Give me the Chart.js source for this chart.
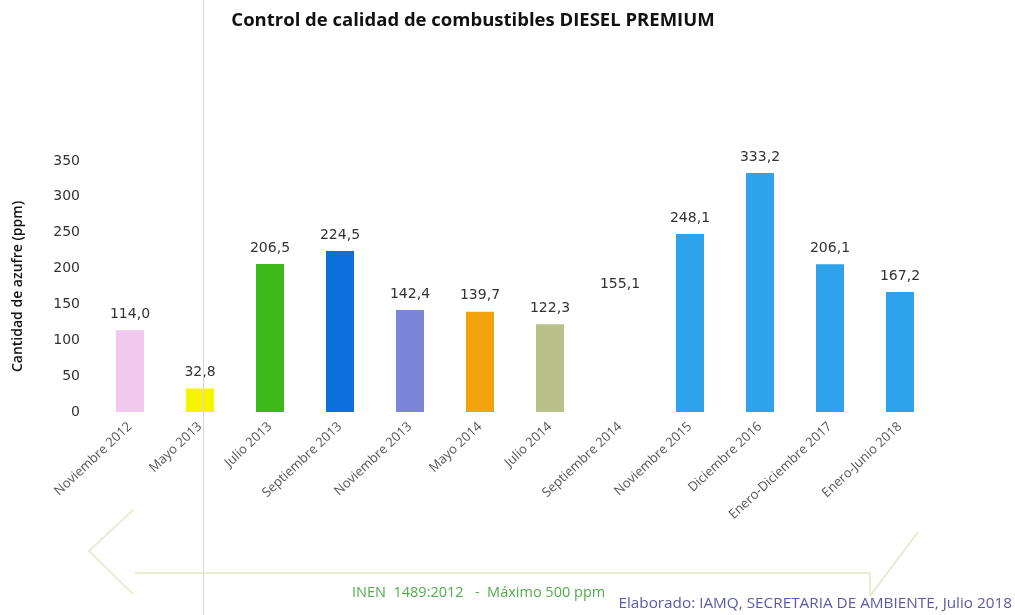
<!DOCTYPE html>
<html lang="es">
<head>
  <meta charset="UTF-8" />
  <title>Diesel Premium</title>
  <script src="https://cdn.jsdelivr.net/npm/chart.js"></script>
  <style>
    html, body { margin: 0; padding: 0; background: #fff; }
    #wrap { width: 1015px; height: 615px; position: relative; }
  </style>
</head>
<body>
  <div id="wrap"><canvas id="grafico"></canvas></div>
  <script>
    // datos
    const categorias = ['Noviembre 2012', 'Mayo 2013', 'Julio 2013', 'Septiembre 2013', 'Noviembre 2013',
      'Mayo 2014', 'Julio 2014', 'Septiembre 2014', 'Noviembre 2015', 'Diciembre 2016',
      'Enero-Diciembre 2017', 'Enero-Junio 2018'];
    const azufre = [114.0, 32.8, 206.5, 224.5, 142.4, 139.7, 122.3, 155.1, 248.1, 333.2, 206.1, 167.2];
    const colores = ['#f2c9ee', '#f7f400', '#3cb918', '#0b6fdc', '#7b86d8', '#f2a40c', '#b9c08a',
      'rgba(0,0,0,0)', '#2ea2ea', '#2ea2ea', '#2ea2ea', '#2ea2ea'];
    const ticksY = [0, 50, 100, 150, 200, 250, 300, 350];

    const fuente = "'Open Sans', 'DejaVu Sans', sans-serif";
    const fuenteNum = "'DejaVu Sans', sans-serif";

    // etiquetas de valor y textos extra
    const extras = {
      id: 'extras',
      afterDatasetsDraw(chart) {
        const ctx = chart.ctx;
        ctx.save();
        ctx.font = '14px ' + fuenteNum;
        ctx.fillStyle = '#333';
        ctx.textAlign = 'center';
        ctx.textBaseline = 'middle';
        chart.getDatasetMeta(0).data.forEach((bar, i) => {
          ctx.fillText(azufre[i].toFixed(1).replace('.', ','), bar.x, bar.y - 16);
        });
        ctx.restore();
      },
      afterDraw(chart) {
        const ctx = chart.ctx;
        ctx.save();
        // linea gris del escaneo
        ctx.strokeStyle = '#d6d6d6';
        ctx.lineWidth = 1;
        ctx.beginPath();
        ctx.moveTo(203.5, 0);
        ctx.lineTo(203.5, 615);
        ctx.stroke();
        // flecha verde clara
        ctx.strokeStyle = '#dfeac2';
        ctx.lineWidth = 1.5;
        ctx.beginPath();
        ctx.moveTo(133, 510); ctx.lineTo(89, 551); ctx.lineTo(133, 594);
        ctx.moveTo(135, 573); ctx.lineTo(870, 573); ctx.lineTo(870, 596);
        ctx.moveTo(870, 596); ctx.lineTo(918, 532);
        ctx.stroke();
        // titulo
        ctx.fillStyle = '#111';
        ctx.font = 'bold 18.5px ' + fuente;
        ctx.textAlign = 'center';
        ctx.textBaseline = 'middle';
        ctx.fillText('Control de calidad de combustibles DIESEL PREMIUM', 473, 21);
        // notas
        ctx.font = '14.5px ' + fuente;
        ctx.fillStyle = '#4fae4a';
        ctx.textAlign = 'left';
        ctx.fillText('INEN  1489:2012   -  Máximo 500 ppm', 352, 593);
        ctx.font = '15.3px ' + fuente;
        ctx.fillStyle = '#5b5aa8';
        ctx.textAlign = 'right';
        ctx.fillText('Elaborado: IAMQ, SECRETARIA DE AMBIENTE, Julio 2018', 1012, 604);
        ctx.restore();
      }
    };

    new Chart(document.getElementById('grafico'), {
      type: 'bar',
      data: {
        labels: categorias,
        datasets: [{
          data: azufre,
          backgroundColor: colores,
          barPercentage: 0.8,
          categoryPercentage: 0.5
        }]
      },
      options: {
        responsive: true,
        maintainAspectRatio: false,
        animation: false,
        layout: { padding: { top: 161, right: 80, bottom: 3, left: 0 } },
        plugins: {
          legend: { display: false },
          tooltip: { enabled: false },
          title: { display: false }
        },
        scales: {
          x: {
            grid: { display: false, drawTicks: false },
            border: { display: false },
            ticks: {
              minRotation: 43,
              maxRotation: 43,
              padding: 7,
              color: '#555',
              font: { family: fuente, size: 13 }
            },
            afterFit(s) { s.height = 200; }
          },
          y: {
            min: 0,
            max: 350,
            grid: { display: false, drawTicks: false },
            border: { display: false },
            afterBuildTicks(s) { s.ticks = ticksY.map(v => ({ value: v })); },
            ticks: {
              padding: 15,
              color: '#333',
              font: { family: fuenteNum, size: 14 }
            },
            title: {
              display: true,
              text: 'Cantidad de azufre (ppm)',
              color: '#111',
              padding: { top: 10, bottom: 0 },
              font: { family: fuente, size: 14, weight: '600' }
            },
            afterFit(s) { s.width = 95; }
          }
        }
      },
      plugins: [extras]
    });
  </script>
</body>
</html>
